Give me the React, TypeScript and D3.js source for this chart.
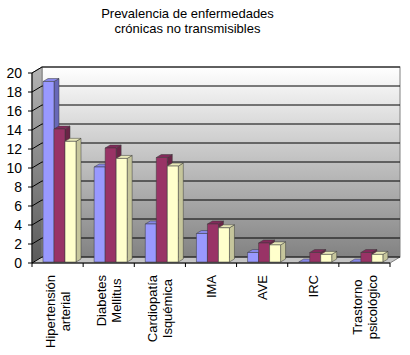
import React from "react";
import * as d3 from "d3";

const title = ["Prevalencia de enfermedades", "crónicas no transmisibles"];
const categories = [
  ["Hipertensión", "arterial"],
  ["Diabetes", "Mellitus"],
  ["Cardiopatía", "Isquémica"],
  ["IMA"],
  ["AVE"],
  ["IRC"],
  ["Trastorno", "psicológico"],
];
const seriesNames = ["Serie 1", "Serie 2", "Serie 3"];
const serie1 = [19, 10, 4, 3, 1, 0, 0];
const serie2 = [14, 12, 11, 4, 2, 1, 1];
const serie3 = [12.7, 10.9, 10.1, 3.6, 1.8, 0.8, 0.8];
const yTicks = [0, 2, 4, 6, 8, 10, 12, 14, 16, 18, 20];

const seriesValues = [serie1, serie2, serie3];
const faceColors = [
  { front: "#9999ff", top: "#8787e8", side: "#6868b8" },
  { front: "#993366", top: "#82295a", side: "#6b2447" },
  { front: "#ffffcc", top: "#e8e8b8", side: "#c6c69c" },
];

const FONT = "'Liberation Sans', Arial, sans-serif";

function measure(text: string, size: number) {
  const c = document.createElement("canvas");
  const ctx = c.getContext("2d");
  if (!ctx) return text.length * size * 0.55;
  ctx.font = `${size}px 'Liberation Sans'`;
  return ctx.measureText(text).width;
}

export default function App() {
  const W = 410;
  const H = 355;
  const xL = 32;
  const xR = 390;
  const ddx = 10;
  const ddy = -6;
  const bdx = 5;
  const bdy = -3;

  const y = d3.scaleLinear().domain([0, 20]).range([263, 73]);
  const xBand = d3
    .scaleBand<number>()
    .domain(d3.range(categories.length))
    .range([xL, xR])
    .paddingInner(0)
    .paddingOuter(0);
  const inner = d3
    .scaleBand<number>()
    .domain(d3.range(seriesNames.length))
    .range([11, 44])
    .padding(0);
  const bw = inner.bandwidth();

  const backTop = y(20) + ddy;
  const backBot = y(0) + ddy;

  const bars: React.ReactNode[] = [];
  categories.forEach((_, ci) => {
    seriesValues.forEach((vals, si) => {
      const v = vals[ci];
      const x = (xBand(ci) as number) + (inner(si) as number);
      const yb = y(0) - 1;
      const yt = y(v) - 1;
      const c = faceColors[si];
      const side = `${x + bw},${yt} ${x + bw + bdx},${yt + bdy} ${x + bw + bdx},${yb + bdy} ${x + bw},${yb}`;
      const top = `${x},${yt} ${x + bdx},${yt + bdy} ${x + bw + bdx},${yt + bdy} ${x + bw},${yt}`;
      bars.push(
        <g key={`${ci}-${si}`} stroke="#3a3a3a" strokeWidth={0.5} strokeLinejoin="round">
          {v > 0 && <polygon points={side} fill={c.side} />}
          <polygon points={top} fill={c.top} />
          {v > 0 && <rect x={x} y={yt} width={bw} height={yb - yt} fill={c.front} />}
        </g>
      );
    });
  });

  return (
    <svg
      width={W}
      height={H}
      style={{ position: "absolute", left: 0, top: 0, background: "#fff" }}
      fontFamily={FONT}
    >
      <defs>
        <linearGradient id="backGrad" x1="0" y1="0" x2="0" y2="1">
          <stop offset="0" stopColor="#ffffff" />
          <stop offset="1" stopColor="#828282" />
        </linearGradient>
        <linearGradient id="sideGrad" x1="0" y1="0" x2="0" y2="1">
          <stop offset="0" stopColor="#b4b4b4" />
          <stop offset="1" stopColor="#5a5a5a" />
        </linearGradient>
      </defs>
      <rect x={0} y={0} width={W} height={H} fill="#fff" />

      {title.map((t, i) => (
        <text key={i} x={187.5} y={18 + i * 15} textAnchor="middle" fontSize={13} fill="#000">
          {t}
        </text>
      ))}

      {/* back wall */}
      <rect
        x={xL + ddx}
        y={backTop}
        width={xR - xL}
        height={backBot - backTop}
        fill="url(#backGrad)"
        stroke="#808080"
        strokeWidth={1}
      />
      {/* side wall */}
      <polygon
        points={`${xL},${y(20)} ${xL + ddx},${backTop} ${xL + ddx},${backBot} ${xL},${y(0)}`}
        fill="url(#sideGrad)"
        stroke="#808080"
        strokeWidth={1}
      />
      {/* floor */}
      <polygon
        points={`${xL},${y(0)} ${xL + ddx},${backBot} ${xR + ddx},${backBot} ${xR},${y(0)}`}
        fill="#c4c4c4"
        stroke="#808080"
        strokeWidth={1}
      />

      {/* gridlines */}
      {yTicks.map((t) => (
        <g key={t} stroke="#000" strokeWidth={1}>
          <line x1={xL + ddx} x2={xR + ddx} y1={y(t) + ddy} y2={y(t) + ddy} />
          <line x1={xL} x2={xL + ddx} y1={y(t)} y2={y(t) + ddy} />
        </g>
      ))}

      {bars}

      {/* axes */}
      <line x1={xL} x2={xL} y1={y(20)} y2={y(0)} stroke="#000" />
      <line x1={xL} x2={xR} y1={y(0)} y2={y(0)} stroke="#000" />
      {yTicks.map((t) => (
        <g key={`yt${t}`}>
          <line x1={xL - 4} x2={xL} y1={y(t)} y2={y(t)} stroke="#000" />
          <text x={22} y={y(t)} dy="0.36em" textAnchor="end" fontSize={14} fill="#000">
            {t}
          </text>
        </g>
      ))}
      {d3.range(categories.length + 1).map((i) => {
        const x = xL + i * xBand.bandwidth();
        return <line key={`xt${i}`} x1={x} x2={x} y1={y(0)} y2={y(0) + 4} stroke="#000" />;
      })}

      {/* category labels */}
      {categories.map((lines, ci) => {
        const cx = (xBand(ci) as number) + xBand.bandwidth() / 2;
        const maxLen = Math.max(...lines.map((l) => measure(l, 13)));
        const cy = 275 + maxLen / 2;
        const n = lines.length;
        return (
          <text
            key={ci}
            transform={`translate(${cx},${cy}) rotate(-90)`}
            textAnchor="middle"
            fontSize={13}
            fill="#000"
          >
            {lines.map((l, li) => (
              <tspan key={li} x={0} y={(li - (n - 1) / 2) * 15 + 4.6}>
                {l}
              </tspan>
            ))}
          </text>
        );
      })}
    </svg>
  );
}
